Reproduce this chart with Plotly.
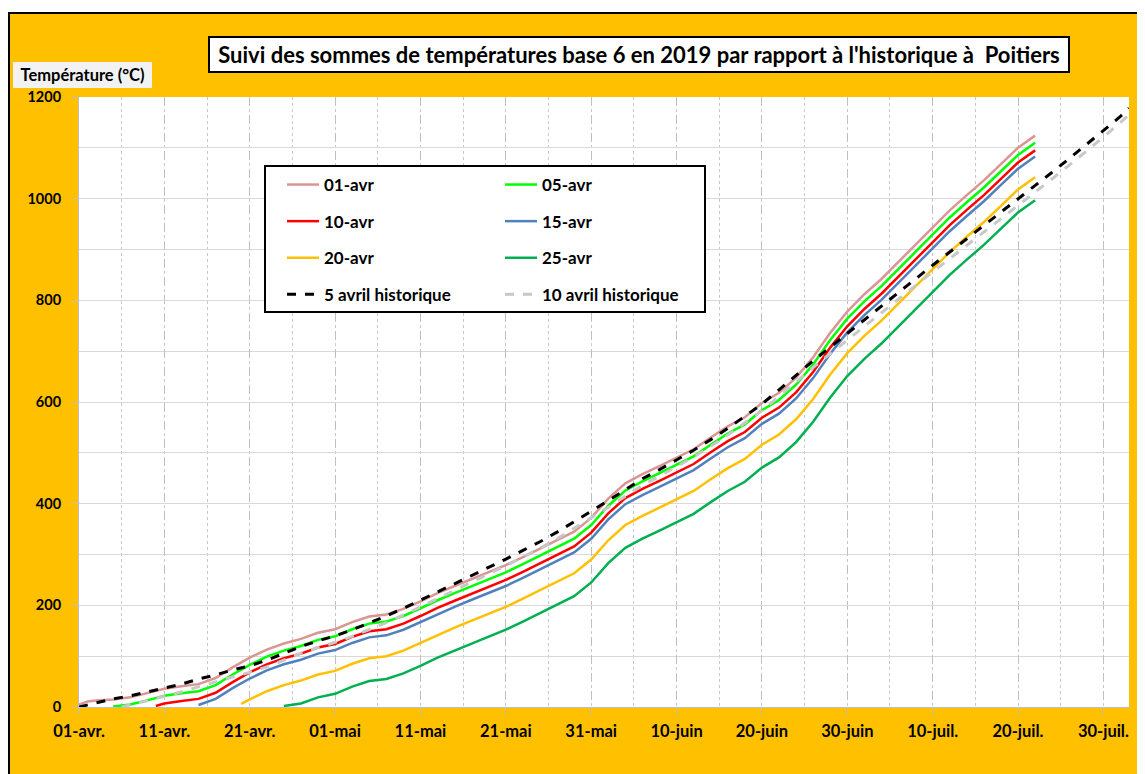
import pandas as pd
import plotly.graph_objects as go

# ---------------- data ----------------
BASE_DATE = "2019-04-01"

S01_DAYS = [0, 1, 2, 4, 6, 8, 10, 12, 14, 16, 18, 20, 22, 24, 26, 28, 30, 32, 34, 36, 38, 40,
            42, 44, 46, 48, 50, 52, 54, 56, 58, 60, 62, 64, 66, 68, 70, 72, 74, 76, 78, 80,
            82, 84, 86, 88, 90, 92, 94, 96, 98, 100, 102, 104, 106, 108, 110, 112]
S01_VALS = [5, 11, 13, 15, 19, 27, 36, 41, 45, 57, 78, 97, 113, 125, 134, 146, 153, 167, 178, 182, 193, 208,
            224, 238, 252, 265, 279, 295, 312, 328, 345, 372, 410, 440, 458, 474, 490, 507, 530, 552, 570, 598,
            618, 648, 688, 736, 778, 812, 842, 876, 910, 944, 977, 1007, 1036, 1068, 1100, 1124]

S05_DAYS = [4, 6, 8, 10, 12, 14, 16, 18, 20, 22, 24, 26, 28, 30, 32, 34, 36, 38, 40,
            42, 44, 46, 48, 50, 52, 54, 56, 58, 60, 62, 64, 66, 68, 70, 72, 74, 76, 78, 80,
            82, 84, 86, 88, 90, 92, 94, 96, 98, 100, 102, 104, 106, 108, 110, 112]
S05_VALS = [1, 5, 13, 22, 27, 31, 43, 64, 83, 99, 111, 120, 132, 139, 153, 164, 168, 179, 194,
            210, 224, 238, 251, 265, 281, 298, 314, 331, 358, 396, 426, 444, 460, 476, 493, 516, 538, 556, 584,
            604, 634, 674, 722, 764, 798, 828, 862, 896, 930, 963, 993, 1022, 1054, 1086, 1110]

S10_DAYS = [9, 10, 12, 14, 16, 18, 20, 22, 24, 26, 28, 30, 32, 34, 36, 38, 40,
            42, 44, 46, 48, 50, 52, 54, 56, 58, 60, 62, 64, 66, 68, 70, 72, 74, 76, 78, 80,
            82, 84, 86, 88, 90, 92, 94, 96, 98, 100, 102, 104, 106, 108, 110, 112]
S10_VALS = [2, 7, 12, 16, 28, 49, 68, 84, 96, 105, 117, 124, 138, 149, 153, 164, 179,
            195, 209, 223, 236, 250, 266, 283, 299, 316, 343, 381, 411, 429, 445, 461, 478, 501, 523, 541, 569,
            589, 619, 659, 707, 749, 783, 813, 847, 881, 915, 948, 978, 1007, 1039, 1071, 1095]

S15_DAYS = [14, 16, 18, 20, 22, 24, 26, 28, 30, 32, 34, 36, 38, 40,
            42, 44, 46, 48, 50, 52, 54, 56, 58, 60, 62, 64, 66, 68, 70, 72, 74, 76, 78, 80,
            82, 84, 86, 88, 90, 92, 94, 96, 98, 100, 102, 104, 106, 108, 110, 112]
S15_VALS = [4, 16, 37, 56, 72, 84, 93, 105, 112, 126, 137, 141, 152, 167,
            183, 197, 211, 224, 238, 254, 271, 287, 304, 331, 369, 399, 417, 433, 449, 466, 489, 511, 529, 557,
            577, 607, 647, 695, 737, 771, 801, 835, 869, 903, 936, 966, 995, 1027, 1059, 1083]

S20_DAYS = [19, 20, 22, 24, 26, 28, 30, 32, 34, 36, 38, 40,
            42, 44, 46, 48, 50, 52, 54, 56, 58, 60, 62, 64, 66, 68, 70, 72, 74, 76, 78, 80,
            82, 84, 86, 88, 90, 92, 94, 96, 98, 100, 102, 104, 106, 108, 110, 112]
S20_VALS = [6, 15, 31, 43, 52, 64, 71, 85, 96, 100, 111, 126,
            142, 156, 170, 183, 197, 213, 230, 246, 263, 290, 328, 358, 376, 392, 408, 425, 448, 470, 488, 516,
            536, 566, 606, 654, 696, 730, 760, 794, 828, 862, 895, 925, 954, 986, 1018, 1042]

S25_DAYS = [24, 26, 28, 30, 32, 34, 36, 38, 40,
            42, 44, 46, 48, 50, 52, 54, 56, 58, 60, 62, 64, 66, 68, 70, 72, 74, 76, 78, 80,
            82, 84, 86, 88, 90, 92, 94, 96, 98, 100, 102, 104, 106, 108, 110, 112]
S25_VALS = [2, 7, 19, 26, 40, 51, 55, 66, 81,
            97, 111, 125, 138, 152, 168, 185, 201, 218, 245, 283, 313, 331, 347, 363, 380, 403, 425, 443, 471,
            491, 521, 561, 609, 651, 685, 715, 749, 783, 817, 850, 880, 909, 941, 973, 997]

H05_DAYS = [0, 2, 4, 6, 8, 10, 12, 14, 16, 18, 20, 22, 24, 26, 28, 30, 32, 34, 36, 38, 40,
            42, 44, 46, 48, 50, 52, 54, 56, 58, 60, 62, 64, 66, 68, 70, 72, 74, 76, 78, 80,
            82, 84, 86, 88, 90, 92, 94, 96, 98, 100, 102, 104, 106, 108, 110, 112, 114, 116,
            118, 120, 122, 123]
H05_VALS = [0, 8, 16, 22, 30, 38, 45, 55, 63, 73, 81, 92, 105, 119, 130, 140, 152, 165, 179, 194, 210,
            227, 243, 258, 274, 291, 308, 325, 344, 364, 385, 406, 428, 449, 467, 486, 505, 526, 548, 572, 596,
            624, 653, 681, 708, 735, 762, 789, 816, 843, 869, 895, 921, 947, 973, 999, 1025, 1052, 1079,
            1106, 1134, 1162, 1178]

H10_DAYS = [5, 6, 8, 10, 12, 14, 16, 18, 20, 22, 24, 26, 28, 30, 32, 34, 36, 38, 40,
            42, 44, 46, 48, 50, 52, 54, 56, 58, 60, 62, 64, 66, 68, 70, 72, 74, 76, 78, 80,
            82, 84, 86, 88, 90, 92, 94, 96, 98, 100, 102, 104, 106, 108, 110, 112, 114, 116,
            118, 120, 122, 123]
H10_VALS = [0, 4, 12, 21, 30, 40, 49, 59, 68, 79, 92, 106, 117, 127, 139, 152, 166, 181, 197,
            214, 230, 245, 261, 278, 295, 312, 331, 351, 372, 393, 415, 436, 454, 473, 492, 513, 535, 559, 583,
            611, 640, 668, 695, 722, 749, 776, 803, 830, 856, 882, 908, 934, 960, 986, 1012, 1039, 1066,
            1093, 1121, 1150, 1165]

XTICK_DATES = ["2019-04-01", "2019-04-11", "2019-04-21", "2019-05-01", "2019-05-11", "2019-05-21",
               "2019-05-31", "2019-06-10", "2019-06-20", "2019-06-30", "2019-07-10", "2019-07-20",
               "2019-07-30"]
XTICK_LABELS = ["01-avr.", "11-avr.", "21-avr.", "01-mai", "11-mai", "21-mai", "31-mai",
                "10-juin", "20-juin", "30-juin", "10-juil.", "20-juil.", "30-juil."]
YTICKS = [0, 200, 400, 600, 800, 1000, 1200]

TITLE = "Suivi des sommes de températures base 6 en 2019 par rapport à l'historique à  Poitiers"
YTITLE = "Température (°C)"

# ---------------- layout geometry (target window pixels) ----------------
OFF = 8                       # page body margin of the browser
WIN_W, WIN_H = 1145, 774
W, H = WIN_W - OFF, WIN_H - OFF
L, R, T, B = 79, 1129, 97, 707  # plot area in window pixels
PW, PH = R - L, B - T


def px(x):
    return (x - L) / PW


def py(y):
    return (B - y) / PH


def dates(days):
    return pd.Timestamp(BASE_DATE) + pd.to_timedelta(days, unit="D")


FONT = "Lato"
ORANGE = "#FFC000"

fig = go.Figure()

series = [
    ("01-avr", S01_DAYS, S01_VALS, "#D99694", "legend", 1),
    ("05-avr", S05_DAYS, S05_VALS, "#00FF00", "legend2", 1),
    ("10-avr", S10_DAYS, S10_VALS, "#FF0000", "legend", 2),
    ("15-avr", S15_DAYS, S15_VALS, "#4F81BD", "legend2", 2),
    ("20-avr", S20_DAYS, S20_VALS, "#FFC000", "legend", 3),
    ("25-avr", S25_DAYS, S25_VALS, "#00B050", "legend2", 3),
]
hist = [
    ("10 avril historique", H10_DAYS, H10_VALS, "#C8C8C8", "legend2", 4),
    ("5 avril historique", H05_DAYS, H05_VALS, "#000000", "legend", 4),
]

for name, d, v, c, lg, rk in series:
    fig.add_trace(go.Scatter(
        x=dates(d), y=v, name=name, mode="lines",
        line=dict(color=c, width=2.5),
        legend=lg, legendgroup=name, legendrank=rk,
    ))

for name, d, v, c, lg, rk in hist:
    fig.add_trace(go.Scatter(
        x=dates(d), y=v, name=name, mode="lines",
        line=dict(color=c, width=3, dash="dash"),
        legend=lg, legendgroup=name, legendrank=rk,
    ))

legend_common = dict(
    bgcolor="rgba(0,0,0,0)", borderwidth=0,
    font=dict(family=FONT, size=17, color="#000000", weight="bold"),
    tracegroupgap=11.5, itemwidth=32,
    yanchor="top", xanchor="left", orientation="v",
)

fig.update_layout(
    width=W, height=H,
    margin=dict(l=L - OFF, r=WIN_W - R, t=T - OFF, b=WIN_H - B, pad=0),
    paper_bgcolor=ORANGE, plot_bgcolor="#FFFFFF",
    font=dict(family=FONT, color="#000000"),
    showlegend=True,
    legend=dict(x=px(282), y=py(167), **legend_common),
    legend2=dict(x=px(500), y=py(167), **legend_common),
    xaxis=dict(
        type="date", range=[dates(0), dates(123)],
        tickmode="array", tickvals=XTICK_DATES, ticktext=XTICK_LABELS,
        ticks="outside", ticklen=6, tickcolor="#BFBFBF", tickwidth=1,
        tickfont=dict(family=FONT, size=16.5, color="#000000", weight="bold"),
        ticklabelstandoff=3,
        showgrid=True, gridcolor="#BFBFBF", gridwidth=1, griddash="dash",
        minor=dict(dtick=5 * 86400000, tick0=BASE_DATE, showgrid=True,
                   gridcolor="#C8C8C8", gridwidth=1, griddash="dot", ticks=""),
        showline=True, linecolor="#BFBFBF", linewidth=1,
        zeroline=False,
    ),
    yaxis=dict(
        range=[0, 1200], tickmode="array", tickvals=YTICKS,
        ticks="outside", ticklen=6, tickcolor="#BFBFBF", tickwidth=1,
        tickfont=dict(family=FONT, size=14.5, color="#000000", weight="bold"),
        ticklabelstandoff=8,
        showgrid=True, gridcolor="#D9D9D9", gridwidth=1,
        minor=dict(dtick=100, tick0=0, showgrid=True, gridcolor="#D9D9D9", gridwidth=1, ticks=""),
        showline=True, linecolor="#BFBFBF", linewidth=1,
        zeroline=False,
    ),
)

shapes = [
    # white strip above the orange frame
    dict(type="rect", xref="paper", yref="paper", x0=px(-20), x1=px(WIN_W + 20), y0=py(12), y1=py(-20),
         fillcolor="#FFFFFF", line=dict(width=0), layer="below"),
    # black frame
    dict(type="rect", xref="paper", yref="paper", x0=px(9), x1=px(WIN_W + 20), y0=py(WIN_H + 20), y1=py(13),
         fillcolor="rgba(0,0,0,0)", line=dict(color="#000000", width=2), layer="below"),
    # legend box
    dict(type="rect", xref="paper", yref="paper", x0=px(265), x1=px(705), y0=py(312), y1=py(166),
         fillcolor="#FFFFFF", line=dict(color="#000000", width=2), layer="above"),
]
fig.update_layout(shapes=shapes)

fig.add_annotation(
    text="<b>" + TITLE + "</b>", xref="paper", yref="paper",
    x=px(638.5), y=py(55), xanchor="center", yanchor="middle", showarrow=False,
    font=dict(family=FONT, size=22, color="#000000"),
    bgcolor="#FFFFFF", bordercolor="#000000", borderwidth=2, borderpad=0,
    width=858, height=33,
)
fig.add_annotation(
    text="<b>" + YTITLE + "</b>", xref="paper", yref="paper",
    x=px(13), y=py(75), xanchor="left", yanchor="middle", showarrow=False,
    font=dict(family=FONT, size=16.5, color="#000000"),
    bgcolor="#F2F2F2", borderwidth=0, borderpad=0,
    width=139, height=26,
)

fig.write_html("out.html")
